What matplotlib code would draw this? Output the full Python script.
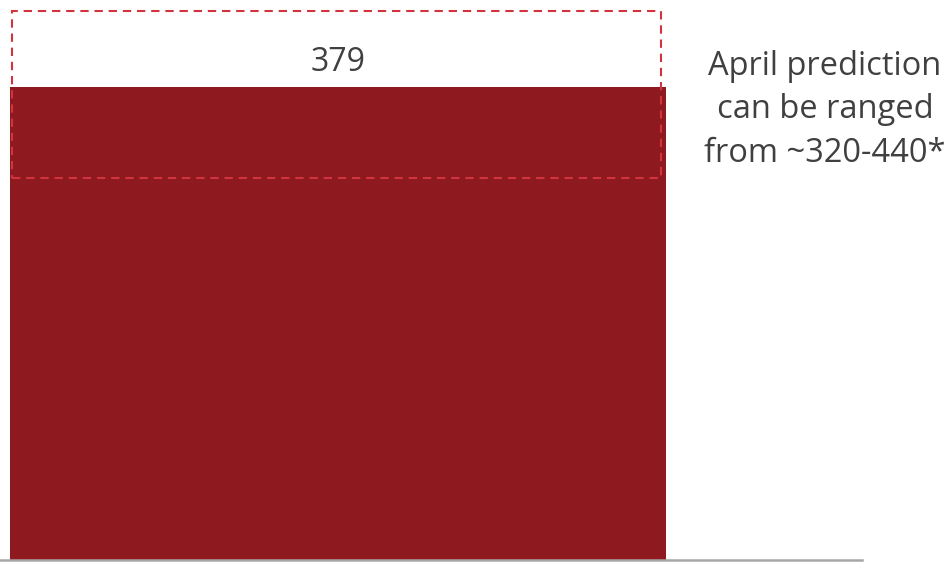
import matplotlib
matplotlib.use("Agg")
import matplotlib.pyplot as plt
from matplotlib.patches import Rectangle

# data
categories = ["April"]
values = [379]
range_low = 306   # bottom of dashed box
range_high = 440  # top of dashed box
note = "April prediction\ncan be ranged\nfrom ~320-440*"

bar_color = "#8E191E"
box_color = "#D0343F"
text_color = "#404040"

plt.rcParams['font.family'] = ['Open Sans', 'DejaVu Sans']

fig = plt.figure(figsize=(9.48, 5.63), dpi=100)
# axes spans from left edge to the end of the baseline
ax = fig.add_axes([0, 3 / 563, 862 / 948, 560 / 563])

bar_w = 0.8
px_per_unit = 656 / bar_w
left = -bar_w / 2 - 10 / px_per_unit
ax.set_xlim(left, left + 862 / px_per_unit)
ax.set_ylim(0, 560 / 1.248)

xs = list(range(len(categories)))
ax.bar(xs, values, width=bar_w, color=bar_color, zorder=2)

for x, v in zip(xs, values):
    ax.text(x, v + 20, str(v), ha="center", va="center",
            fontsize=23, color=text_color)

    # dashed box showing the prediction range
    x0 = x - bar_w / 2 + 2 / px_per_unit
    x1 = x + bar_w / 2 - 5 / px_per_unit
    ax.add_patch(Rectangle((x0, range_low), x1 - x0, range_high - range_low,
                           fill=False, edgecolor=box_color, lw=1.5,
                           linestyle=(0, (4, 2.8)), zorder=3))

for s in ["top", "right", "left"]:
    ax.spines[s].set_visible(False)
ax.spines["bottom"].set_color("#A6A6A6")
ax.spines["bottom"].set_linewidth(1.8)
ax.set_xticks([])
ax.set_yticks([])

fig.text(825 / 948, 1 - 110 / 563, note, ha="center", va="center",
         fontsize=23.5, color=text_color, linespacing=1.42)

fig.savefig("out.png", dpi=100)
